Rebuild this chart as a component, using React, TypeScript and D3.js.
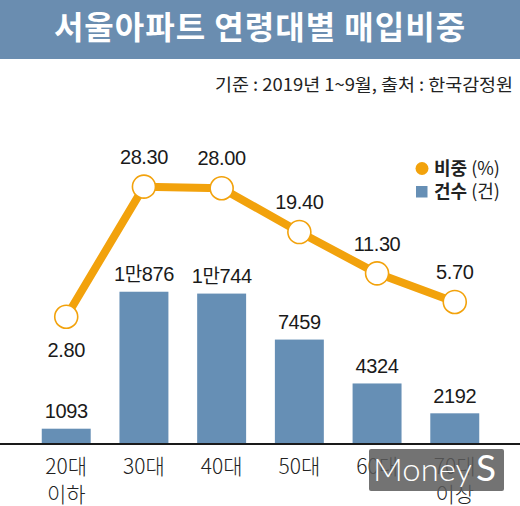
import React from "react";
import * as d3 from "d3";

// 연령대별 서울 아파트 매입 (2019년 1~9월)
const categories = ["20대 이하", "30대", "40대", "50대", "60대", "70대 이상"];
const tickLines = [["20대", "이하"], ["30대"], ["40대"], ["50대"], ["60대"], ["70대", "이상"]];
const counts = [1093, 10876, 10744, 7459, 4324, 2192];
const countLabels = ["1093", "1만876", "1만744", "7459", "4324", "2192"];
const shares = [2.8, 28.3, 28.0, 19.4, 11.3, 5.7];
const shareLabels = ["2.80", "28.30", "28.00", "19.40", "11.30", "5.70"];

const W = 520;
const H = 506;
const BASE_Y = 444;
const BAR_COLOR = "#668fb5";
const TITLE_BG = "#6a8db0";
const LINE_COLOR = "#f2a20c";
const NUM_FONT = "'Liberation Sans', Arial, sans-serif";
const KR_FONT = "'Noto Sans CJK KR', 'Noto Sans', sans-serif";

export default function App() {
  const x = d3.scaleBand<string>().domain(categories).range([13, 508]).padding(0.37);
  const yBar = d3.scaleLinear().domain([0, 11000]).range([BASE_Y, BASE_Y - 154]);
  const yLine = d3.scaleLinear().domain([0, 30]).range([331, 178]);
  const cx = (c: string) => (x(c) ?? 0) + x.bandwidth() / 2;

  const line = d3
    .line<number>()
    .x((_, i) => cx(categories[i]))
    .y((d) => yLine(d));

  return (
    <svg
      width={W}
      height={H}
      style={{ position: "absolute", left: 0, top: 0, background: "#fff" }}
    >
      {/* title bar */}
      <rect x={0} y={0} width={W} height={59} fill={TITLE_BG} />
      <text
        x={W / 2}
        y={39}
        textAnchor="middle"
        fill="#fff"
        fontFamily={KR_FONT}
        fontWeight={700}
        fontSize={32}
        letterSpacing={1}
      >
        서울아파트 연령대별 매입비중
      </text>
      <text
        x={513}
        y={91}
        textAnchor="end"
        fill="#222"
        fontFamily={KR_FONT}
        fontSize={17.5}
        textLength={298}
        lengthAdjust="spacingAndGlyphs"
      >
        기준 : 2019년 1~9월, 출처 : 한국감정원
      </text>

      {/* legend */}
      <circle cx={422} cy={168.5} r={6.5} fill={LINE_COLOR} />
      <text x={434} y={168.5} dy="0.36em" fontFamily={KR_FONT} fontSize={18} fill="#222">
        <tspan fontWeight={700}>비중</tspan>
        <tspan> (%)</tspan>
      </text>
      <rect x={416} y={186} width={11.5} height={11.5} fill={BAR_COLOR} />
      <text x={434} y={191.5} dy="0.36em" fontFamily={KR_FONT} fontSize={18} fill="#222">
        <tspan fontWeight={700}>건수</tspan>
        <tspan> (건)</tspan>
      </text>

      {/* bars */}
      {counts.map((v, i) => (
        <g key={categories[i]}>
          <rect
            x={x(categories[i])}
            y={yBar(v)}
            width={x.bandwidth()}
            height={BASE_Y - yBar(v)}
            fill={BAR_COLOR}
          />
          <text
            x={cx(categories[i])}
            y={yBar(v) - 18}
            dy="0.36em"
            textAnchor="middle"
            fontFamily={NUM_FONT}
            fontSize={20}
            letterSpacing={-0.4}
            fill="#1a1a1a"
          >
            {countLabels[i].includes("만") ? (
              <>
                <tspan>1</tspan>
                <tspan fontFamily={KR_FONT} fontSize={19}>만</tspan>
                <tspan>{countLabels[i].split("만")[1]}</tspan>
              </>
            ) : (
              countLabels[i]
            )}
          </text>
        </g>
      ))}

      {/* axis */}
      <line x1={0} x2={W} y1={BASE_Y} y2={BASE_Y} stroke="#1a1a1a" strokeWidth={2} />
      {tickLines.map((lines, i) =>
        lines.map((t, j) => (
          <text
            key={`${i}-${j}`}
            x={cx(categories[i])}
            y={466 + j * 28}
            dy="0.36em"
            textAnchor="middle"
            fontFamily={KR_FONT}
            fontWeight={300}
            fontSize={21}
            fill="#222"
          >
            {t}
          </text>
        ))
      )}

      {/* share line */}
      <path
        d={line(shares) ?? ""}
        fill="none"
        stroke={LINE_COLOR}
        strokeWidth={8}
        strokeLinejoin="round"
      />
      {shares.map((v, i) => (
        <g key={`p-${categories[i]}`}>
          <circle
            cx={cx(categories[i])}
            cy={yLine(v)}
            r={11.5}
            fill="#fff"
            stroke={LINE_COLOR}
            strokeWidth={1.6}
          />
          <text
            x={cx(categories[i])}
            y={i === 0 ? yLine(v) + 33 : yLine(v) - 30}
            dy="0.36em"
            textAnchor="middle"
            fontFamily={NUM_FONT}
            fontSize={20}
            letterSpacing={-0.4}
            fill="#1a1a1a"
          >
            {shareLabels[i]}
          </text>
        </g>
      ))}

      {/* watermark */}
      <rect x={369} y={449} width={135} height={42} rx={2} fill="#5a5a5a" opacity={0.85} />
      <text
        x={373}
        y={481}
        fill="#fff"
        fontFamily="Lato, 'Open Sans', sans-serif"
        fontWeight={300}
        fontSize={32}
        textLength={99}
        lengthAdjust="spacingAndGlyphs"
      >
        Money
      </text>
      <text x={476} y={481} fill="#fff" fontFamily="Lato, 'Open Sans', sans-serif" fontWeight={400} fontSize={37}>
        S
      </text>
    </svg>
  );
}
